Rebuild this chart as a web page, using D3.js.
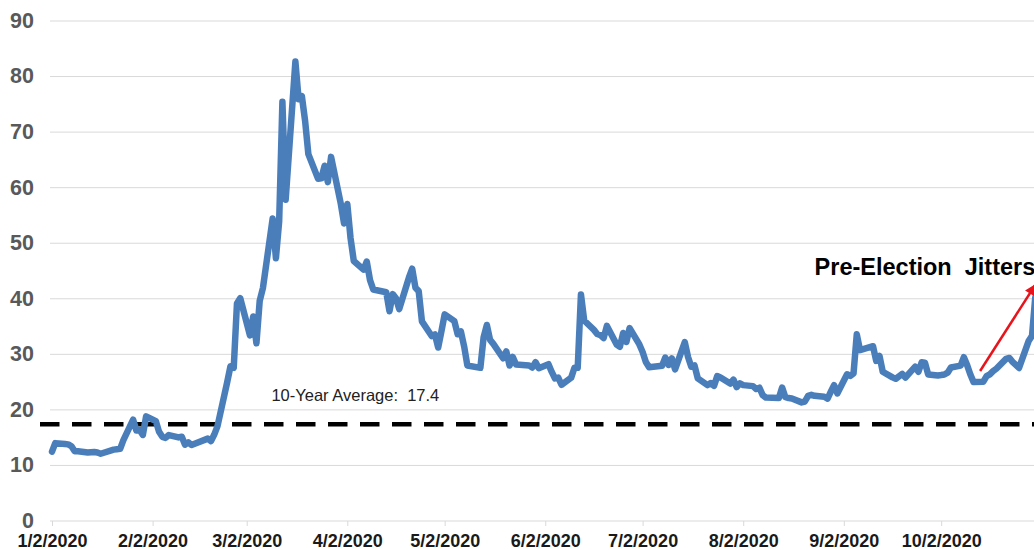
<!DOCTYPE html>
<html>
<head>
<meta charset="utf-8">
<script src="https://cdn.jsdelivr.net/npm/d3@7"></script>
<style>
  html, body { margin: 0; padding: 0; background: #fff; }
  svg { display: block; font-family: Arial, "Liberation Sans", sans-serif; }
</style>
</head>
<body>
<svg id="chart" width="1034" height="550"></svg>
<script>
// Daily VIX closes, 2020 (dates as plotted on the date axis)
const dates = [
  "1/2","1/3","1/6","1/7","1/8","1/9","1/10","1/13","1/14","1/15","1/16","1/17","1/21","1/22","1/23","1/24",
  "1/27","1/28","1/29","1/30","1/31","2/3","2/4","2/5","2/6","2/7","2/10","2/11","2/12","2/13","2/14",
  "2/19","2/20","2/21","2/22","2/25","2/26","2/27","2/28","2/29",
  "3/3","3/4","3/5","3/6","3/7","3/10","3/11","3/12","3/13","3/14","3/17","3/18","3/19","3/20","3/21",
  "3/24","3/25","3/26","3/27","3/28","3/31","4/1","4/2","4/3","4/4","4/7","4/8","4/9","4/10",
  "4/14","4/15","4/16","4/17","4/18","4/21","4/22","4/23","4/24","4/25","4/28","4/29","4/30","5/1","5/2",
  "5/5","5/6","5/7","5/8","5/9",
  "5/13","5/14","5/15","5/16","5/17","5/20","5/21","5/22","5/23","5/24","5/28","5/29","5/30","5/31",
  "6/3","6/4","6/5","6/6","6/7","6/10","6/11","6/12","6/13","6/14","6/17","6/18","6/19","6/20","6/21",
  "6/24","6/25","6/26","6/27","6/28","7/1","7/2","7/3","7/4","7/8","7/9","7/10","7/11","7/12",
  "7/15","7/16","7/17","7/18","7/19","7/22","7/23","7/24","7/25","7/26","7/29","7/30","7/31","8/1","8/2",
  "8/5","8/6","8/7","8/8","8/9",
  "8/13","8/14","8/15","8/16","8/17","8/20","8/21","8/22","8/23","8/24","8/27","8/28","8/29","8/30","8/31",
  "9/3","9/4","9/5","9/6","9/7","9/11","9/12","9/13","9/14","9/17","9/18","9/19","9/20","9/21",
  "9/24","9/25","9/26","9/27","9/28","10/1","10/2","10/3","10/4","10/5","10/8","10/9","10/10","10/11","10/12",
  "10/15","10/16","10/17","10/18","10/19","10/22","10/23","10/24","10/25","10/26","10/29","10/30","10/31","11/1","11/2"
];
const vix = [
  12.47,14.02,13.85,13.79,13.45,12.54,12.56,12.32,12.39,12.42,12.32,12.10,12.85,12.91,12.98,14.56,
  18.23,16.28,16.39,15.49,18.84,17.97,16.05,15.15,14.96,15.47,15.04,15.18,13.74,14.15,13.68,
  14.83,14.38,15.56,17.08,25.03,27.85,27.56,39.16,40.11,
  33.42,36.82,31.99,39.62,41.94,54.46,47.30,53.90,75.47,57.83,82.69,75.91,76.45,72.00,66.04,
  61.59,61.67,63.95,61.00,65.54,57.08,53.54,57.06,50.91,46.80,45.24,46.70,43.35,41.67,
  41.17,37.76,40.84,40.11,38.15,43.83,45.41,41.98,41.38,35.93,33.29,33.57,31.23,34.15,37.19,
  35.97,33.61,34.12,31.44,27.98,
  27.57,33.04,35.28,32.61,31.89,29.30,30.53,27.99,29.53,28.16,28.01,27.62,28.59,27.51,
  28.23,26.84,25.66,25.81,24.52,25.81,27.57,27.57,40.79,36.09,34.40,33.67,33.47,32.94,35.12,
  31.77,31.37,33.84,32.22,34.73,31.78,30.43,28.62,27.68,27.94,29.43,28.08,29.26,27.29,
  32.19,29.52,27.76,28.00,25.68,24.46,24.84,24.32,26.08,25.84,24.74,25.44,24.10,24.76,24.46,
  24.28,23.76,23.99,22.65,22.21,
  22.13,24.03,22.28,22.13,22.05,21.35,21.51,22.54,22.72,22.54,22.37,22.03,23.27,24.47,22.96,
  26.41,26.12,26.57,33.60,30.75,31.46,28.81,29.71,26.87,25.85,25.59,26.04,26.46,25.83,
  27.78,26.86,28.58,28.51,26.38,26.19,26.27,26.37,26.70,27.63,27.96,29.48,28.06,26.36,25.00,
  25.07,26.07,26.40,26.97,27.41,29.18,29.35,28.65,28.11,27.55,32.46,33.35,40.28,37.59,38.02
];
const tickLabels = ["1/2/2020","2/2/2020","3/2/2020","4/2/2020","5/2/2020","6/2/2020","7/2/2020","8/2/2020","9/2/2020","10/2/2020"];
const yTicks = [0,10,20,30,40,50,60,70,80,90];
const tenYearAverage = 17.4;
const averageLabel = "10-Year Average:  17.4";
const calloutText = "Pre-Election  Jitters";
// callout anchor points: [date, value]
const calloutTextAt = ["8/24", 44.3];
const arrowFrom = ["10/14", 27.0];
const arrowTo = ["10/31", 42.5];
const averageLabelAt = ["3/9", 21.6];

const parseDay = s => d3.timeParse("%m/%d/%Y")(s + "/2020");
const parseFull = d3.timeParse("%m/%d/%Y");
const series = dates.map((d, i) => ({ date: parseDay(d), value: vix[i] }));

const svg = d3.select("#chart");
const W = 1034, H = 550;

const x = d3.scaleTime()
  .domain([parseDay("1/2"), parseDay("11/3")])
  .range([52, 1045]);
const y = d3.scaleLinear().domain([0, 90]).range([521, 21]);

const gridLeft = 50;

// horizontal gridlines
svg.append("g")
  .selectAll("line")
  .data(yTicks.filter(t => t > 0))
  .join("line")
  .attr("x1", gridLeft).attr("x2", W + 20)
  .attr("y1", d => y(d)).attr("y2", d => y(d))
  .attr("stroke", "#d9d9d9").attr("stroke-width", 1);

// y axis labels
svg.append("g")
  .selectAll("text")
  .data(yTicks)
  .join("text")
  .attr("x", 34)
  .attr("y", d => y(d))
  .attr("dy", "0.32em")
  .attr("text-anchor", "end")
  .attr("font-size", 21.5)
  .attr("font-weight", "bold")
  .attr("fill", "#595959")
  .text(d => d);

// x axis
const xTickDates = tickLabels.map(parseFull);
const xAxis = d3.axisBottom(x)
  .tickValues(xTickDates)
  .tickSize(5)
  .tickPadding(8)
  .tickFormat((d, i) => tickLabels[i]);

const gx = svg.append("g")
  .attr("transform", `translate(0,${y(0)})`)
  .call(xAxis);
gx.select(".domain").remove();
gx.selectAll(".tick line").attr("stroke", "#d9d9d9");
gx.selectAll(".tick text")
  .attr("font-size", 18)
  .attr("font-weight", "bold")
  .attr("fill", "#1a1a1a")
  .attr("font-family", "Arial, 'Liberation Sans', sans-serif");
svg.append("line")
  .attr("x1", gridLeft).attr("x2", W + 20)
  .attr("y1", y(0)).attr("y2", y(0))
  .attr("stroke", "#d9d9d9").attr("stroke-width", 1);

// 10-year average reference
svg.append("line")
  .attr("x1", 40).attr("x2", W + 20)
  .attr("y1", y(tenYearAverage)).attr("y2", y(tenYearAverage))
  .attr("stroke", "#000").attr("stroke-width", 4.5)
  .attr("stroke-dasharray", "19.5 12.5");

svg.append("text")
  .attr("x", x(parseDay(averageLabelAt[0])) + 2)
  .attr("y", y(averageLabelAt[1]))
  .attr("font-size", 16.5)
  .attr("fill", "#222")
  .style("white-space", "pre")
  .text(averageLabel);

// VIX line
const line = d3.line().x(d => x(d.date)).y(d => y(d.value));
svg.append("path")
  .datum(series)
  .attr("d", line)
  .attr("fill", "none")
  .attr("stroke", "#4a7ebb")
  .attr("stroke-width", 6.5)
  .attr("stroke-linejoin", "round")
  .attr("stroke-linecap", "round");

// callout
svg.append("defs").append("marker")
  .attr("id", "arrowhead")
  .attr("viewBox", "0 0 10 10")
  .attr("refX", 9).attr("refY", 5)
  .attr("markerWidth", 5).attr("markerHeight", 4.5)
  .attr("markerUnits", "strokeWidth")
  .attr("orient", "auto")
  .append("path")
  .attr("d", "M0,0 L10,5 L0,10 Z")
  .attr("fill", "#e8141c");

svg.append("line")
  .attr("x1", x(parseDay(arrowFrom[0]))).attr("y1", y(arrowFrom[1]))
  .attr("x2", x(parseDay(arrowTo[0]))).attr("y2", y(arrowTo[1]))
  .attr("stroke", "#e8141c").attr("stroke-width", 2.5)
  .attr("marker-end", "url(#arrowhead)");

svg.append("text")
  .attr("x", x(parseDay(calloutTextAt[0])))
  .attr("y", y(calloutTextAt[1]))
  .attr("font-size", 23.5)
  .attr("font-weight", "bold")
  .attr("fill", "#000")
  .style("white-space", "pre")
  .text(calloutText);
</script>
</body>
</html>
